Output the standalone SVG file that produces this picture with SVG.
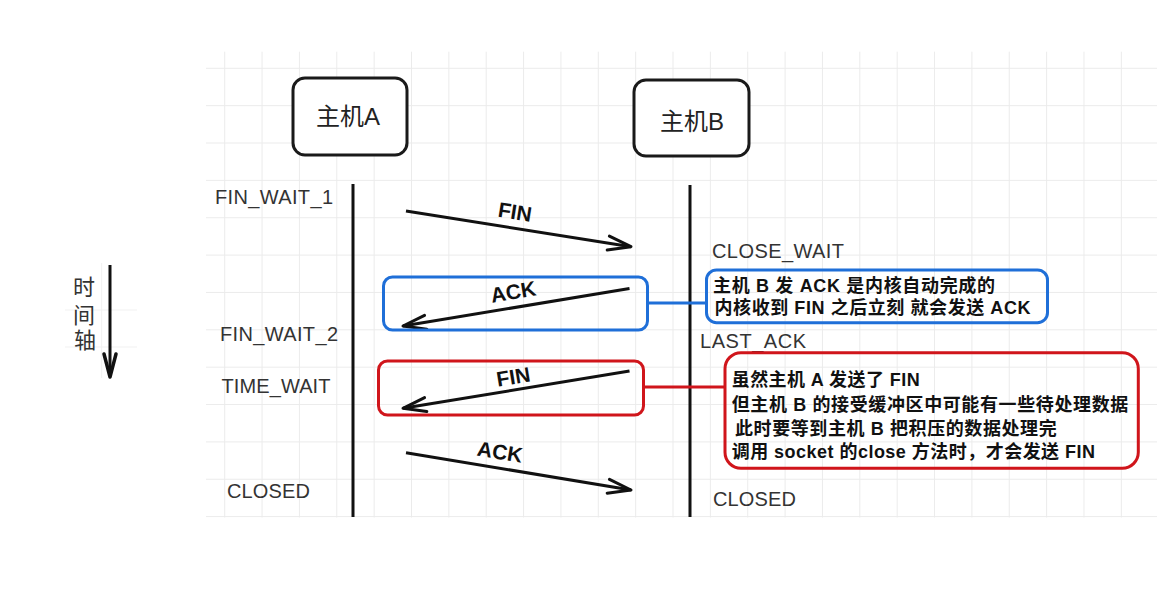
<svg xmlns="http://www.w3.org/2000/svg" width="1172" height="597" viewBox="0 0 1172 597">
<style>
.lbl{font-family:"Liberation Sans","Noto Sans CJK SC",sans-serif;font-size:20px;fill:#333}
.host{font-family:"Liberation Sans","Noto Sans CJK SC",sans-serif;font-size:24px;fill:#222;text-anchor:middle}
.msg{font-family:"Liberation Sans","Noto Sans CJK SC",sans-serif;font-size:21px;font-weight:bold;fill:#111;text-anchor:middle}
.note{font-family:"Liberation Sans","Noto Sans CJK SC",sans-serif;font-size:18px;font-weight:bold;fill:#111}
.hostbox{fill:#fff;stroke:#1a1a1a;stroke-width:3}
.life{stroke:#111;stroke-width:3}
.arrow{stroke:#111;stroke-width:3;fill:none;marker-end:url(#open)}
.blue{stroke:#1f6fd8;stroke-width:3;fill:none}
.red{stroke:#d0151b;stroke-width:3;fill:none}
.grid{stroke:#ebebeb;stroke-width:1}
</style>
<defs>
<pattern id="gridp" patternUnits="userSpaceOnUse" x="224.2" y="67.8" width="37.36" height="37.36">
<path d="M0.5,0 V37.36 M0,0.5 H37.36" class="grid" fill="none"/>
</pattern>
<marker id="open" markerUnits="userSpaceOnUse" viewBox="-27 -10 30 20" refX="0" refY="0" markerWidth="30" markerHeight="20" orient="auto">
<path d="M-23,-7 L0,0 L-23,7" fill="none" stroke="#111" stroke-width="3" stroke-linejoin="round" stroke-linecap="round"/>
</marker>
</defs>
<rect width="1172" height="597" fill="#fff"/>
<rect x="206" y="51.7" width="951" height="465.8" fill="url(#gridp)"/>
<g id="axis-grid" stroke="#f1f1f1" stroke-width="1">
<line x1="101.7" y1="263" x2="101.7" y2="378"/>
<line x1="65" y1="310" x2="137" y2="310"/>
<line x1="65" y1="347" x2="137" y2="347"/>
</g>

<g id="time-axis">
<text class="lbl" font-size="22" text-anchor="middle" x="84" y="294.5" style="font-size:22px">时</text>
<text class="lbl" text-anchor="middle" x="84" y="323" style="font-size:22px">间</text>
<text class="lbl" text-anchor="middle" x="85" y="348" style="font-size:22px">轴</text>
<line x1="110" y1="265" x2="110" y2="375" stroke="#111" stroke-width="3"/>
<path d="M104,354 L110,377 L116,354" fill="none" stroke="#111" stroke-width="3.5" stroke-linejoin="round" stroke-linecap="round"/>
</g>

<g id="hostA">
<rect class="hostbox" x="293" y="78" width="114" height="77" rx="12"/>
<text class="host" x="348" y="124.5">主机A</text>
</g>
<g id="hostB">
<rect class="hostbox" x="634" y="80" width="115" height="76" rx="12"/>
<text class="host" x="692" y="129.5">主机B</text>
</g>

<g id="lifelines">
<line class="life" x1="353" y1="184" x2="353" y2="517"/>
<line class="life" x1="690" y1="185" x2="690" y2="517"/>
</g>

<g id="states">
<text class="lbl" x="215" y="204" textLength="118">FIN_WAIT_1</text>
<text class="lbl" x="712" y="258" textLength="132">CLOSE_WAIT</text>
<text class="lbl" x="220" y="341" textLength="118">FIN_WAIT_2</text>
<text class="lbl" x="700" y="347.5" textLength="106">LAST_ACK</text>
<text class="lbl" x="221.5" y="393" textLength="109">TIME_WAIT</text>
<text class="lbl" x="227" y="498" textLength="83">CLOSED</text>
<text class="lbl" x="713" y="506" textLength="83">CLOSED</text>
</g>

<g id="connectors">
<line class="arrow" x1="406" y1="211" x2="631" y2="246.7"/>
<line class="arrow" x1="629.5" y1="288.5" x2="403" y2="326"/>
<line class="arrow" x1="629.5" y1="371" x2="403" y2="408.3"/>
<line class="arrow" x1="406" y1="452.7" x2="631" y2="490"/>
<line class="blue" x1="647" y1="303" x2="706.5" y2="303"/>
<line class="red" x1="643" y1="387" x2="725" y2="387"/>
<text class="msg" transform="translate(515,211.7) rotate(9)" x="0" y="7.5">FIN</text>
<text class="msg" transform="translate(513.3,291.7) rotate(-9.5)" x="0" y="7.5">ACK</text>
<text class="msg" transform="translate(513.3,376.7) rotate(-9.3)" x="0" y="7.5">FIN</text>
<text class="msg" transform="translate(500,451.7) rotate(9.3)" x="0" y="7.5">ACK</text>
</g>

<g id="ack-highlight">
<rect class="blue" x="383.5" y="277" width="264" height="53" rx="9"/>
</g>
<g id="fin-highlight">
<rect class="red" x="378.5" y="361" width="265" height="54" rx="9"/>
</g>

<g id="note-ack">
<rect class="blue" x="706.5" y="270" width="341" height="52.7" rx="10" fill="#fff"/>
<text class="note" x="713" y="291.5" textLength="282">主机 B 发 ACK 是内核自动完成的</text>
<text class="note" x="714.5" y="314" textLength="316">内核收到 FIN 之后立刻 就会发送 ACK</text>
</g>

<g id="note-fin">
<rect class="red" x="725" y="352.7" width="413.3" height="115.6" rx="16"/>
<text class="note" x="731.7" y="386" textLength="188">虽然主机 A 发送了 FIN</text>
<text class="note" x="731.7" y="411" textLength="396.6">但主机 B 的接受缓冲区中可能有一些待处理数据</text>
<text class="note" x="735" y="434.5" textLength="321.7">此时要等到主机 B 把积压的数据处理完</text>
<text class="note" x="731.7" y="458" textLength="363.3">调用 socket 的close 方法时，才会发送 FIN</text>
</g>
</svg>
